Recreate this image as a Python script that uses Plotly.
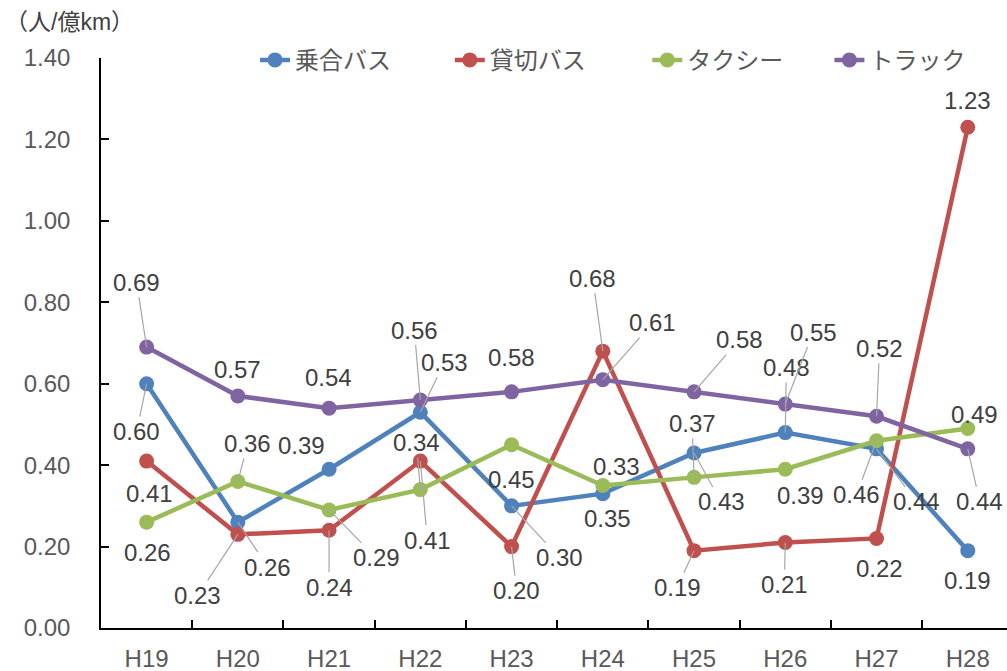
import plotly.graph_objects as go

categories = ["H19", "H20", "H21", "H22", "H23", "H24", "H25", "H26", "H27", "H28"]
bus_route = [0.60, 0.26, 0.39, 0.53, 0.30, 0.33, 0.43, 0.48, 0.44, 0.19]
bus_charter = [0.41, 0.23, 0.24, 0.41, 0.20, 0.68, 0.19, 0.21, 0.22, 1.23]
taxi = [0.26, 0.36, 0.29, 0.34, 0.45, 0.35, 0.37, 0.39, 0.46, 0.49]
truck = [0.69, 0.57, 0.54, 0.56, 0.58, 0.61, 0.58, 0.55, 0.52, 0.44]

series_names = ["乗合バス", "貸切バス", "タクシー", "トラック"]
series_values = [bus_route, bus_charter, taxi, truck]
colors = ["#4F81BD", "#C0504D", "#9BBB59", "#8064A2"]

# label offsets in pixels (dx, dy downwards, leader line?)
label_offsets = [
    [(-10, 48, 1), (30, 45, 1), (-28, -24, 0), (24, -50, 1), (48, 52, 1),
     (14, -27, 0), (27, 49, 1), (1, -65, 1), (40, 53, 1), (0, 30, 0)],
    [(3, 32, 0), (-40, 61, 1), (0, 57, 1), (7, 79, 1), (5, 44, 1),
     (-10, -73, 1), (-17, 37, 1), (-1, 42, 1), (3, 30, 0), (0, -27, 0)],
    [(1, 30, 0), (10, -38, 1), (47, 48, 1), (-4, -47, 1), (0, 35, 0),
     (5, 33, 0), (-2, -54, 1), (15, 26, 0), (-20, 54, 1), (7, -14, 0)],
    [(-10, -65, 1), (0, -26, 0), (-1, -31, 0), (-6, -70, 1), (0, -34, 0),
     (50, -57, 1), (45, -52, 1), (28, -72, 1), (3, -68, 1), (12, 53, 1)],
]

# legend positions (paper x) for each series
legend_x = [0.170, 0.385, 0.603, 0.804]
legend_ids = ["legend", "legend2", "legend3", "legend4"]

FONT = "Liberation Sans, Noto Sans CJK JP, sans-serif"

fig = go.Figure()
for name, vals, col, lid in zip(series_names, series_values, colors, legend_ids):
    fig.add_trace(go.Scatter(
        x=categories, y=vals, name=name, mode="lines+markers",
        line=dict(color=col, width=4.5),
        marker=dict(color=col, size=15),
        cliponaxis=False, legend=lid,
    ))

annotations = []
for vals, offs in zip(series_values, label_offsets):
    for cat, v, (dx, dy, lead) in zip(categories, vals, offs):
        txt = f"{v:.2f}"
        if lead:
            annotations.append(dict(
                x=cat, y=v, text=txt, showarrow=True, ax=dx, ay=dy,
                arrowhead=0, arrowwidth=1.2, arrowcolor="#A6A6A6",
                font=dict(size=24, color="#404040", family=FONT)))
        else:
            annotations.append(dict(
                x=cat, y=v, text=txt, showarrow=False, xshift=dx, yshift=-dy,
                font=dict(size=24, color="#404040", family=FONT)))

annotations.append(dict(
    xref="paper", yref="paper", x=-0.108, y=1.063, xanchor="left", yanchor="middle",
    text="（人/億km）", showarrow=False,
    font=dict(size=23, color="#404040", family=FONT)))

legend_common = dict(
    orientation="h", y=0.996, xanchor="left", yanchor="middle",
    font=dict(size=24, color="#595959", family=FONT),
    bgcolor="rgba(0,0,0,0)", itemwidth=30,
)

fig.update_layout(
    width=1007, height=671,
    margin=dict(l=101, r=0, t=58, b=43),
    paper_bgcolor="white", plot_bgcolor="white",
    font=dict(family=FONT, size=24, color="#595959"),
    annotations=annotations,
    showlegend=True,
    legend=dict(x=legend_x[0], **legend_common),
    legend2=dict(x=legend_x[1], **legend_common),
    legend3=dict(x=legend_x[2], **legend_common),
    legend4=dict(x=legend_x[3], **legend_common),
    xaxis=dict(
        type="category", range=[-0.5, 9.43], tickson="boundaries",
        ticks="inside", ticklen=8, tickcolor="black", tickwidth=1.6,
        showline=True, linecolor="black", linewidth=1.7, showgrid=False,
        tickfont=dict(size=24, color="#595959", family=FONT),
        ticklabelstandoff=8, automargin=False,
    ),
    yaxis=dict(
        range=[0, 1.4001], dtick=0.2, tickformat=".2f",
        ticks="inside", ticklen=8, tickcolor="black", tickwidth=1.6,
        showline=True, linecolor="black", linewidth=1.7, showgrid=False,
        zeroline=False,
        tickfont=dict(size=24, color="#595959", family=FONT),
        ticklabelstandoff=24, automargin=False,
    ),
)

fig.write_html(
    "out.html",
    config={"displayModeBar": False},
    post_script="document.body.style.margin='0';document.body.style.overflow='hidden';",
)
